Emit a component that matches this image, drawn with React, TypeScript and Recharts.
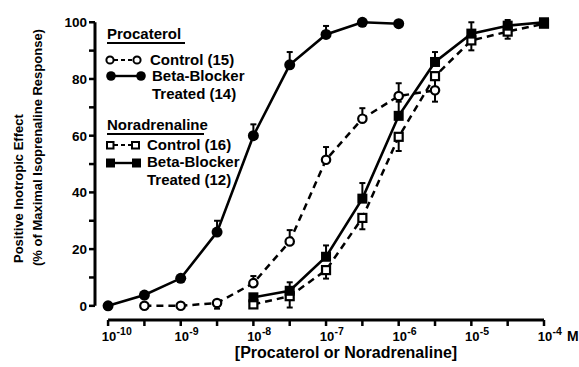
import React from "react";
import { LineChart, Line, XAxis, YAxis, ErrorBar, ReferenceLine } from "recharts";

// log10 of molar concentration
const procaterolDoses = [-10, -9.5, -9, -8.5, -8, -7.5, -7, -6.5, -6];
const procaterolControlDoses = [-9.5, -9, -8.5, -8, -7.5, -7, -6.5, -6, -5.5];
const noradrenalineDoses = [-8, -7.5, -7, -6.5, -6, -5.5, -5, -4.5, -4];

// % of maximal isoprenaline response; errors as [below, above]
const procaterolBlocked = [0, 3.8, 9.7, 26, 60, 85, 95.7, 100, 99.5];
const procaterolBlockedErr = [[0, 0], [0, 0], [0, 0], [0, 4], [0, 4], [0, 4.5], [0, 3], [0, 0], [0, 0]];
const procaterolControl = [0, 0, 1, 8, 22.7, 51.5, 66, 74, 76];
const procaterolControlErr = [[0, 0], [0, 0], [2, 0], [0, 2.5], [0, 4], [0, 4.5], [0, 3.7], [0, 4.5], [4, 0]];
const noradrenalineBlocked = [3, 5.3, 17.3, 37.8, 67, 86, 96, 98.8, 100];
const noradrenalineBlockedErr = [[0, 0], [0, 3], [0, 4], [0, 5.5], [0, 5], [0, 3.5], [0, 4], [0, 2], [0, 0]];
const noradrenalineControl = [0.5, 3.4, 12.6, 31, 59.6, 81, 93.6, 96.7, 99.5];
const noradrenalineControlErr = [[0, 0], [4, 0], [3, 0], [4, 0], [5, 0], [4, 0], [3.5, 0], [2.5, 0], [0, 0]];

const xTicks = [-10, -9.5, -9, -8.5, -8, -7.5, -7, -6.5, -6, -5.5, -5, -4.5, -4];
const yTicks = [0, 10, 20, 30, 40, 50, 60, 70, 80, 90, 100];

const FONT = "'Liberation Sans', Arial, sans-serif";

const toPoints = (xs: number[], ys: number[], errs: number[][]) =>
  xs.map((x, i) => ({ x, y: ys[i], err: errs[i] }));

const procBlockedData = toPoints(procaterolDoses, procaterolBlocked, procaterolBlockedErr);
const procControlData = toPoints(procaterolControlDoses, procaterolControl, procaterolControlErr);
const noraBlockedData = toPoints(noradrenalineDoses, noradrenalineBlocked, noradrenalineBlockedErr);
const noraControlData = toPoints(noradrenalineDoses, noradrenalineControl, noradrenalineControlErr);

const filledCircle = (p: any) => (
  <circle key={`fc${p.index}`} cx={p.cx} cy={p.cy} r={5.5} fill="#000" />
);
const openCircle = (p: any) => (
  <circle key={`oc${p.index}`} cx={p.cx} cy={p.cy} r={4.2} fill="#fff" stroke="#000" strokeWidth={2.2} />
);
const filledSquare = (p: any) => (
  <rect key={`fs${p.index}`} x={p.cx - 5} y={p.cy - 5} width={10} height={10} fill="#000" />
);
const openSquare = (p: any) => (
  <rect key={`os${p.index}`} x={p.cx - 4} y={p.cy - 4} width={8} height={8} fill="#fff" stroke="#000" strokeWidth={2.2} />
);

function DecadeTick({ x, y, payload }: any) {
  const v = payload.value;
  if (!Number.isInteger(v)) return <g />;
  return (
    <g fontFamily={FONT} fontWeight="bold" fill="#000">
      <text x={x + 1} y={y + 13} textAnchor="middle" fontSize={13}>10</text>
      <text x={x + 8.5} y={y + 6.5} fontSize={10.5}>{v}</text>
      {v === -4 && <text x={x + 23} y={y + 13} fontSize={14}>M</text>}
    </g>
  );
}

function PercentTick({ x, y, payload }: any) {
  const v = payload.value;
  if (v % 20 !== 0) return <g />;
  return (
    <text x={x} y={y + 5} textAnchor="end" fontSize={13.5} fontFamily={FONT} fontWeight="bold" fill="#000">
      {v}
    </text>
  );
}

function Annotations() {
  const t = { fontFamily: FONT, fontWeight: "bold" as const, fontSize: 15, fill: "#000" };
  const dash = { stroke: "#000", strokeWidth: 2.2, strokeDasharray: "4 3" };
  return (
    <svg width={579} height={367} style={{ position: "absolute", left: 0, top: 0, pointerEvents: "none" }}>
      {/* y axis title */}
      <g fontFamily={FONT} fontWeight="bold" fontSize={13} fill="#000">
        <text transform="translate(23,263) rotate(-90)">Positive Inotropic Effect</text>
        <text transform="translate(42,266) rotate(-90)">(% of Maximal Isoprenaline Response)</text>
      </g>
      <text x={346} y={358} textAnchor="middle" {...t} fontSize={16}>[Procaterol or Noradrenaline]</text>

      {/* legend: procaterol */}
      <text x={107} y={39} {...t}>Procaterol</text>
      <line x1={107} x2={185} y1={43} y2={43} stroke="#000" strokeWidth={1.8} />
      <line x1={114} x2={133} y1={60} y2={60} {...dash} />
      <circle cx={110} cy={60} r={3.6} fill="#fff" stroke="#000" strokeWidth={2} />
      <circle cx={137} cy={60} r={3.6} fill="#fff" stroke="#000" strokeWidth={2} />
      <text x={150} y={65} {...t}>Control (15)</text>
      <line x1={114} x2={138} y1={76} y2={76} stroke="#000" strokeWidth={2.4} />
      <circle cx={111} cy={76} r={4.8} fill="#000" />
      <circle cx={141} cy={76} r={4.8} fill="#000" />
      <text x={152} y={81} {...t}>Beta-Blocker</text>
      <text x={152} y={99} {...t}>Treated (14)</text>

      {/* legend: noradrenaline */}
      <text x={107} y={130} {...t}>Noradrenaline</text>
      <line x1={107} x2={204} y1={134} y2={134} stroke="#000" strokeWidth={1.8} />
      <line x1={114} x2={131} y1={145} y2={145} {...dash} />
      <rect x={107} y={142} width={6.5} height={6.5} fill="#fff" stroke="#000" strokeWidth={2} />
      <rect x={132} y={142} width={7} height={6.5} fill="#fff" stroke="#000" strokeWidth={2} />
      <text x={147} y={150} {...t}>Control (16)</text>
      <line x1={114} x2={134} y1={163} y2={163} stroke="#000" strokeWidth={2.4} />
      <rect x={106} y={158.5} width={9} height={9} fill="#000" />
      <rect x={132} y={158.5} width={9} height={9} fill="#000" />
      <text x={147} y={167} {...t}>Beta-Blocker</text>
      <text x={147} y={185} {...t}>Treated (12)</text>
    </svg>
  );
}

export default function App() {
  return (
    <div style={{ position: "absolute", left: 0, top: 0, width: 579, height: 367, background: "#fff" }}>
      <LineChart width={579} height={367} margin={{ top: 20, right: 35, bottom: 0, left: 0 }}>
        <XAxis
          type="number"
          dataKey="x"
          domain={[-10.18, -4]}
          ticks={xTicks}
          interval={0}
          axisLine={false}
          tickSize={6}
          tickLine={{ stroke: "#000", strokeWidth: 2.5 }}
          tick={<DecadeTick />}
          height={47}
        />
        <YAxis
          type="number"
          dataKey="y"
          domain={[-5, 100]}
          ticks={yTicks}
          interval={0}
          axisLine={false}
          tickSize={6}
          tickLine={{ stroke: "#000", strokeWidth: 2.5 }}
          tick={<PercentTick />}
          width={95}
        />
        <ReferenceLine segment={[{ x: -10.18, y: 0 }, { x: -10.18, y: 100 }]} stroke="#000" strokeWidth={3} ifOverflow="visible" />
        <ReferenceLine segment={[{ x: -10, y: -5 }, { x: -4, y: -5 }]} stroke="#000" strokeWidth={3} ifOverflow="visible" />

        <Line data={procControlData} dataKey="y" stroke="#000" strokeWidth={2.5} strokeDasharray="7 5" dot={openCircle} isAnimationActive={false}>
          <ErrorBar dataKey="err" direction="y" width={3} stroke="#000" strokeWidth={2} />
        </Line>
        <Line data={noraControlData} dataKey="y" stroke="#000" strokeWidth={2.5} strokeDasharray="7 5" dot={openSquare} isAnimationActive={false}>
          <ErrorBar dataKey="err" direction="y" width={3} stroke="#000" strokeWidth={2} />
        </Line>
        <Line data={procBlockedData} dataKey="y" stroke="#000" strokeWidth={2.6} dot={filledCircle} isAnimationActive={false}>
          <ErrorBar dataKey="err" direction="y" width={3} stroke="#000" strokeWidth={2} />
        </Line>
        <Line data={noraBlockedData} dataKey="y" stroke="#000" strokeWidth={2.6} dot={filledSquare} isAnimationActive={false}>
          <ErrorBar dataKey="err" direction="y" width={3} stroke="#000" strokeWidth={2} />
        </Line>
      </LineChart>
      <Annotations />
    </div>
  );
}
